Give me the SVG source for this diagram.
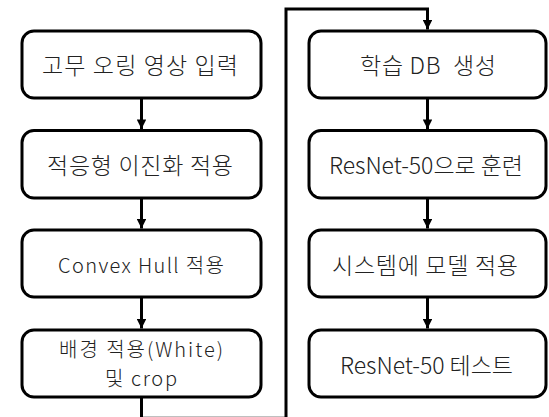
<svg xmlns="http://www.w3.org/2000/svg" width="549" height="417" viewBox="0 0 549 417">
<style>
.box{fill:#fff;stroke:#000;stroke-width:3}
.t{font-family:"Noto Sans CJK KR","Noto Sans",sans-serif;font-weight:300;font-size:23px;fill:#222;text-anchor:middle;dominant-baseline:central}
.m{font-size:20px}
.s{font-size:20px}
.c{fill:none;stroke:#000;stroke-width:3}
</style>
<defs>
<marker id="ah" viewBox="0 0 10 10" refX="10" refY="5" markerWidth="3.2" markerHeight="3.2" orient="auto" markerUnits="strokeWidth">
<path d="M0,0 L10,5 L0,10 Z" fill="#000"/>
</marker>
</defs>
<rect width="549" height="417" fill="#fff"/>
<g id="connectors">
<line class="c" x1="141.5" y1="98" x2="141.5" y2="129" marker-end="url(#ah)"/>
<line class="c" x1="141.5" y1="198" x2="141.5" y2="228.5" marker-end="url(#ah)"/>
<line class="c" x1="141.5" y1="297" x2="141.5" y2="328.5" marker-end="url(#ah)"/>
<polyline class="c" points="141.5,397 141.5,418.3 286,418.3 286,9 427.5,9 427.5,29.5" marker-end="url(#ah)"/>
<line class="c" x1="427.5" y1="98" x2="427.5" y2="129" marker-end="url(#ah)"/>
<line class="c" x1="427.5" y1="198" x2="427.5" y2="228.5" marker-end="url(#ah)"/>
<line class="c" x1="427.5" y1="297" x2="427.5" y2="328.5" marker-end="url(#ah)"/>
</g>
<g id="n1"><rect class="box" x="22" y="31" width="239" height="67" rx="12"/><text class="t" x="140" y="64" textLength="196">고무 오링 영상 입력</text></g>
<g id="n2"><rect class="box" x="22" y="130.5" width="239" height="67.5" rx="12"/><text class="t" x="140" y="164" textLength="186">적응형 이진화 적용</text></g>
<g id="n3"><rect class="box" x="22" y="230" width="239" height="67" rx="12"/><text class="t s" x="141" y="264" textLength="166">Convex Hull 적용</text></g>
<g id="n4"><rect class="box" x="22" y="330" width="239" height="67" rx="12"/><text class="t m" x="141" y="348.5" textLength="164">배경 적용(White)</text><text class="t m" x="141" y="377.5" textLength="72">및 crop</text></g>
<g id="n5"><rect class="box" x="309" y="31" width="237" height="67" rx="12"/><text class="t" x="428" y="64" textLength="136" style="white-space:pre">학습 DB  생성</text></g>
<g id="n6"><rect class="box" x="309" y="130.5" width="237" height="67.5" rx="12"/><text class="t" x="426" y="164" textLength="194">ResNet-50으로 훈련</text></g>
<g id="n7"><rect class="box" x="309" y="230" width="237" height="67" rx="12"/><text class="t" x="425" y="264" textLength="186">시스템에 모델 적용</text></g>
<g id="n8"><rect class="box" x="309" y="330" width="237" height="67" rx="12"/><text class="t" x="426.5" y="364" textLength="173">ResNet-50 테스트</text></g>
</svg>
